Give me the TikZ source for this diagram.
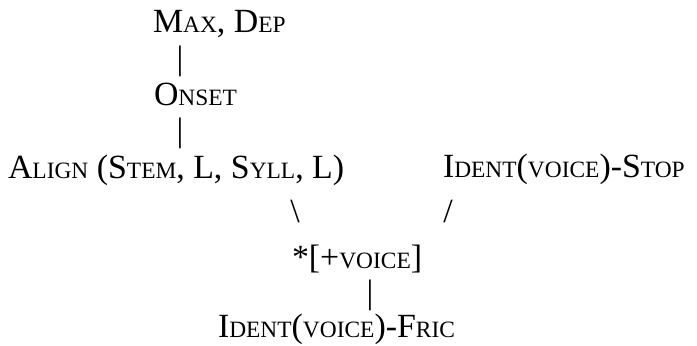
\documentclass[tikz,border=0pt]{standalone}
\usepackage{fontspec}
\setmainfont{Liberation Serif}
% small capitals built from reduced upper-case letters
\newcommand\lo[1]{{\fontsize{23.5}{23.5}\selectfont #1}}
\begin{document}
\begin{tikzpicture}[x=1bp,y=-1bp,
  con/.style={inner sep=0pt,outer sep=0pt,anchor=base west,font=\fontsize{34}{34}\selectfont},
  bar/.style={inner sep=0pt,outer sep=0pt,anchor=center,font=\fontsize{34}{34}\selectfont}]
\useasboundingbox (0,0) rectangle (697,345);
\node[con] (maxdep) at (153,32) {M\lo{AX}, D\lo{EP}};
\node[bar] (b1) at (180,61) {|};
\node[con] (onset) at (154,105) {O\lo{NSET}};
\node[bar] (b2) at (180,133) {|};
\node[con] (align) at (8,178) {A\lo{LIGN} (S\lo{TEM}, L, S\lo{YLL}, L)};
\node[con] (stop) at (443,177) {I\lo{DENT}(\lo{VOICE})-S\lo{TOP}};
\node[bar] (bs) at (295,211) {\textbackslash};
\node[bar] (sl) at (448,211) {/};
\node[con] (voice) at (292,268) {*[+\lo{VOICE}]};
\node[bar] (b3) at (370,295) {|};
\node[con] (fric) at (218,337) {I\lo{DENT}(\lo{VOICE})-F\lo{RIC}};
\end{tikzpicture}
\end{document}
